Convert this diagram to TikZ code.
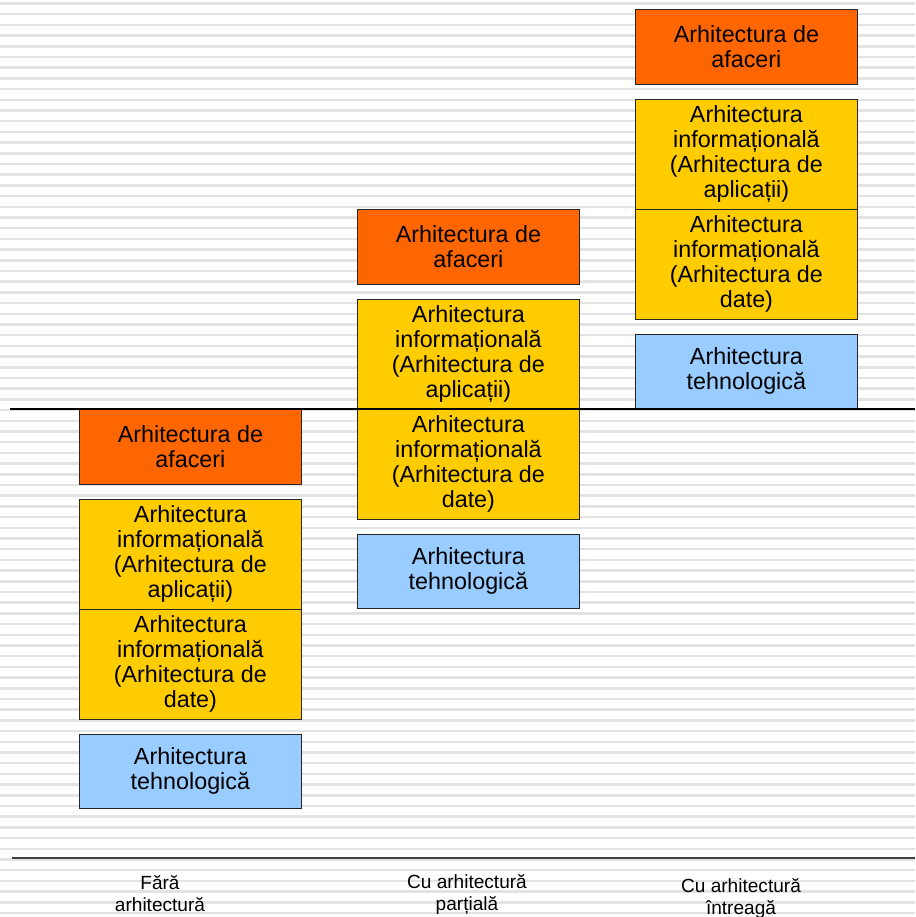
\documentclass[tikz,border=0pt]{standalone}
\usepackage{fontspec}
\setmainfont{Liberation Sans}
\definecolor{afaceri}{HTML}{FF6600}
\definecolor{informatii}{HTML}{FFCC00}
\definecolor{tehno}{HTML}{99CCFF}
\tikzset{
  nivel/.style={draw=black!85, line width=0.6pt, anchor=north west, inner sep=0pt,
    minimum width=166.5pt, align=center, font=\fontsize{17.5}{18.75}\selectfont},
  boxafaceri/.style={nivel, fill=afaceri, minimum height=56.25pt},
  boxinfo/.style={nivel, fill=informatii, minimum height=82.5pt},
  boxtehno/.style={nivel, fill=tehno, minimum height=55.5pt},
  eticheta/.style={align=center, font=\fontsize{14.3}{16.5}\selectfont}
}
\begin{document}
\begin{tikzpicture}[x=0.75pt, y=-0.75pt]
	\useasboundingbox (0,0) rectangle (915,917);
	% fundal cu dungi
	\foreach \i in {0,...,85}
		\draw[black!11, line width=1.9pt] (0, 3.5+10.7*\i) -- (915, 3.5+10.7*\i);
	
	% cele trei coloane
	\foreach \c/\dx/\dy in {A/79/409, B/357/209, C/635/9} {
		\begin{scope}[shift={(\dx,\dy)}]
			\node[boxafaceri] (afaceri\c) at (0,0) {Arhitectura de\\afaceri};
			\node[boxinfo] (aplic\c) at (0,90) {Arhitectura\\informațională\\(Arhitectura de\\aplicații)};
			\node[boxinfo] (date\c) at (0,200) {Arhitectura\\informațională\\(Arhitectura de\\date)};
			\node[boxtehno] (tehno\c) at (0,325) {Arhitectura\\tehnologică};
		\end{scope}
	}
	
	\draw[black, line width=1.5pt] (10,409) -- (915,409);
	\draw[black!75, line width=1.2pt] (12,858) -- (915,858);
	
	\node[eticheta] (etA) at (160,894) {Fără\\arhitectură};
	\node[eticheta] (etB) at (467,894) {Cu arhitectură\\parțială};
	\node[eticheta] (etC) at (741,898) {Cu arhitectură\\întreagă};
\end{tikzpicture}
\end{document}
